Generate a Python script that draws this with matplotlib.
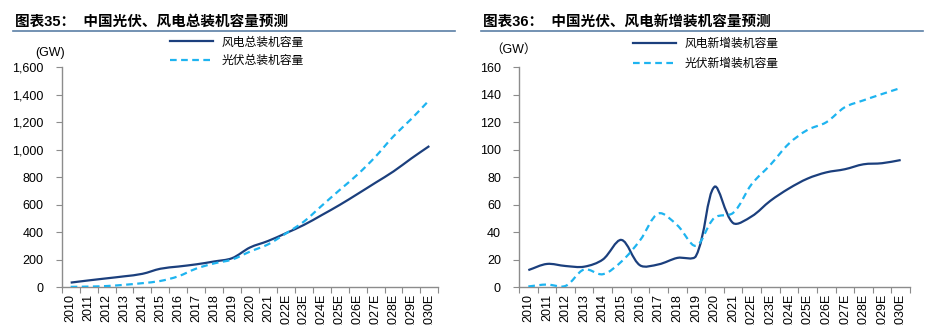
import numpy as np
import matplotlib
matplotlib.use("Agg")
import matplotlib.pyplot as plt
from matplotlib.path import Path
from matplotlib.patches import PathPatch
from matplotlib.lines import Line2D
from matplotlib.ticker import StrMethodFormatter

plt.rcParams['font.family'] = ['Liberation Sans', 'Noto Sans CJK SC']

years = ['2010', '2011', '2012', '2013', '2014', '2015', '2016', '2017', '2018',
         '2019', '2020', '2021', '2022E', '2023E', '2024E', '2025E', '2026E',
         '2027E', '2028E', '2029E', '2030E']

# 累计装机 (GW)
wind_total = [32, 48, 63, 78, 96, 133, 149, 165, 186, 210, 288, 335, 392,
              452, 524, 598, 678, 760, 842, 937, 1027]
solar_total = [1, 3, 7, 16, 28, 44, 78, 134, 172, 200, 258, 310, 390,
               476, 592, 707, 820, 950, 1098, 1225, 1362]

# 新增装机 (GW)
wind_new = [12.3, 16.8, 15.3, 14.8, 20.0, 34.3, 15.8, 16.5, 21.2, 22.5, 73.0,
            46.6, 51.5, 62.8, 71.8, 79.0, 83.5, 85.8, 89.4, 90.2, 92.5]
solar_new = [0.4, 1.8, 0.8, 12.8, 9.3, 18.5, 34.0, 53.6, 45.0, 30.0, 50.5,
             54.0, 75.0, 89.0, 104.5, 114.5, 120.0, 131.0, 136.0, 140.6, 145.0]

title_left = '图表35：  中国光伏、风电总装机容量预测'
title_right = '图表36：  中国光伏、风电新增装机容量预测'
labels_left = ['风电总装机容量', '光伏总装机容量']
labels_right = ['风电新增装机容量', '光伏新增装机容量']

WIND = '#1b3f7d'
SOLAR = '#1eb4f0'
SPINE = '#8c8c8c'
DASH = (0, (3, 2))


def smooth_path(ys, sx, sy):
    # excel style smoothed line, control arms weighted by on-screen segment length
    pts = np.column_stack([np.arange(len(ys)), ys]).astype(float)
    n = len(pts)
    scale = np.array([sx, sy])

    def dist(a, b):
        return np.hypot(*((b - a) * scale))

    cin, cout = [None] * n, [None] * n
    for i in range(n):
        p0 = pts[max(i - 1, 0)]
        p1 = pts[i]
        p2 = pts[min(i + 1, n - 1)]
        d01, d12 = dist(p0, p1), dist(p1, p2)
        t = p2 - p0
        tot = d01 + d12 if d01 + d12 > 0 else 1
        cin[i] = p1 - t * d01 / tot / 3
        cout[i] = p1 + t * d12 / tot / 3
    verts = [pts[0]]
    codes = [Path.MOVETO]
    for i in range(n - 1):
        verts += [cout[i], cin[i + 1], pts[i + 1]]
        codes += [Path.CURVE4] * 3
    return Path(verts, codes)


def draw(ax, wind, solar, ymax, ystep, labels, gw_xy, gw_text, leg_xy, spacing):
    bbox = ax.get_window_extent()
    sx = bbox.width / len(years)
    sy = bbox.height / ymax
    ax.add_patch(PathPatch(smooth_path(wind, sx, sy), fill=False, ec=WIND,
                           lw=1.6, capstyle='butt', zorder=3))
    ax.add_patch(PathPatch(smooth_path(solar, sx, sy), fill=False, ec=SOLAR,
                           lw=1.6, ls=DASH, capstyle='butt', zorder=3))
    ax.set_xlim(-0.5, len(years) - 0.5)
    ax.set_ylim(0, ymax)
    ax.set_yticks(np.arange(0, ymax + 1, ystep))
    ax.yaxis.set_major_formatter(StrMethodFormatter('{x:,.0f}'))
    ax.set_xticks(np.arange(-0.5, len(years), 1))
    ax.set_xticklabels([])
    ax.set_xticks(range(len(years)), minor=True)
    ax.set_xticklabels(years, minor=True, rotation=90, fontsize=9)
    ax.tick_params(axis='x', which='major', length=4, color=SPINE, width=0.8)
    ax.tick_params(axis='x', which='minor', length=0, pad=5)
    ax.tick_params(axis='y', length=4, color=SPINE, width=0.8, pad=9, labelsize=9)
    for s in ['top', 'right']:
        ax.spines[s].set_visible(False)
    for s in ['left', 'bottom']:
        ax.spines[s].set_color(SPINE)
        ax.spines[s].set_linewidth(1.0)
    ax.text(gw_xy[0], gw_xy[1], gw_text, transform=ax.transAxes,
            ha='center', va='center', fontsize=9)
    handles = [Line2D([], [], color=WIND, lw=1.6),
               Line2D([], [], color=SOLAR, lw=1.6, ls=DASH)]
    ax.legend(handles, labels, loc='upper left', bbox_to_anchor=leg_xy,
              bbox_transform=ax.figure.transFigure, frameon=False, fontsize=8.5,
              handlelength=3.6, handletextpad=0.8, borderpad=0,
              borderaxespad=0, labelspacing=spacing)


fig = plt.figure(figsize=(9.34, 3.25), dpi=100)
W, H = 934, 325
ax1 = fig.add_axes([61.7 / W, 38 / H, 376.6 / W, 219.6 / H])
ax2 = fig.add_axes([519 / W, 38 / H, 391 / W, 219.6 / H])

draw(ax1, wind_total, solar_total, 1600, 200, labels_left,
     (-0.031, 1.067), '(GW)', (170 / W, 1 - 36.5 / H), 0.53)
draw(ax2, wind_new, solar_new, 160, 20, labels_right,
     (-0.013, 1.079), '（GW）', (633 / W, 1 - 38 / H), 0.68)

fig.text(15 / W, 1 - 22 / H, title_left, fontsize=10.5, fontweight='bold',
         ha='left', va='center')
fig.text(483 / W, 1 - 22 / H, title_right, fontsize=10.5, fontweight='bold',
         ha='left', va='center')
fig.add_artist(Line2D([13 / W, 455 / W], [1 - 31 / H] * 2, color='#5b7fa6', lw=1.2))
fig.add_artist(Line2D([481 / W, 923 / W], [1 - 31 / H] * 2, color='#5b7fa6', lw=1.2))

fig.savefig('out.png', dpi=100)
